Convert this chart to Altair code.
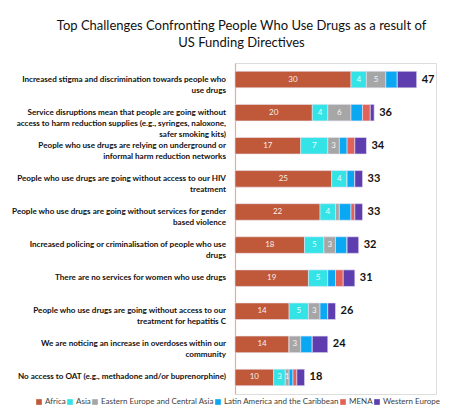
import altair as alt
import pandas as pd

categories = [
    "Increased stigma and discrimination towards people who|use drugs",
    "Service disruptions mean that people are going without|access to harm reduction supplies (e.g., syringes, naloxone,|safer smoking kits)",
    "People who use drugs are relying on underground or|informal harm reduction networks",
    "People who use drugs are going without access to our HIV|treatment",
    "People who use drugs are going without services for gender|based violence",
    "Increased policing or criminalisation of people who use|drugs",
    "There are no services for women who use drugs",
    "People who use drugs are going without access to our|treatment for hepatitis C",
    "We are noticing an increase in overdoses within our|community",
    "No access to OAT (e.g., methadone and/or buprenorphine)",
]
regions = ["Africa", "Asia", "Eastern Europe and Central Asia",
           "Latin America and the Caribbean", "MENA", "Western Europe"]
africa = [30, 20, 17, 25, 22, 18, 19, 14, 14, 10]
asia = [4, 4, 7, 4, 4, 5, 5, 5, 0, 3]
eeca = [5, 6, 3, 0, 1, 3, 0, 3, 3, 1]
lac = [3, 3, 2, 2, 3, 3, 2, 2, 3, 1]
mena = [0, 2, 2, 0, 1, 0, 2, 0, 0, 1]
weur = [5, 1, 3, 2, 2, 3, 3, 2, 4, 2]
totals = [47, 36, 34, 33, 33, 32, 31, 26, 24, 18]
# which segment values are printed inside the bars
labelled_regions = ["Africa", "Asia", "Eastern Europe and Central Asia"]
eeca_label_shown = [True, True, True, False, False, True, False, True, True, True]
colors = ["#C0583A", "#33E3E6", "#A6A6A6", "#0AA8F2", "#E2625A", "#5E3EAE"]

series = [africa, asia, eeca, lac, mena, weur]
rows = []
for i, cat in enumerate(categories):
    cum = 0
    for r, (reg, vals) in enumerate(zip(regions, series)):
        v = vals[i]
        show = reg in labelled_regions and v > 0
        if reg == "Eastern Europe and Central Asia":
            show = show and eeca_label_shown[i]
        rows.append({"category": cat, "region": reg, "ridx": r, "value": v,
                     "start": cum, "end": cum + v, "mid": cum + v / 2,
                     "label": str(v) if show else ""})
        cum += v
df = pd.DataFrame(rows)
tot_df = pd.DataFrame({"category": categories, "total": totals})
cat_df = pd.DataFrame({"category": categories})

FONT = "Lato"
y_enc = alt.Y("category:N", sort=categories,
              scale=alt.Scale(paddingInner=0.5, paddingOuter=0.25),
              axis=alt.Axis(labels=False, ticks=False, title=None,
                            domainColor="#F0A890", domainWidth=1.2))
x_scale = alt.Scale(domain=[0, 52])

bars = alt.Chart(df).mark_bar(stroke="#E8E4F4", strokeWidth=0.6).encode(
    x=alt.X("start:Q", scale=x_scale, axis=None),
    x2="end:Q",
    y=y_enc,
    color=alt.Color("region:N", sort=regions,
                    scale=alt.Scale(domain=regions, range=colors),
                    legend=alt.Legend(title=None, orient="none", direction="horizontal",
                                      columns=6, legendX=-200, legendY=335,
                                      symbolType="square", symbolSize=32,
                                      symbolStrokeWidth=0,
                                      labelFont=FONT, labelFontSize=8.0,
                                      labelColor="#404040", columnPadding=0,
                                      labelOffset=2)),
)

inner = alt.Chart(df).mark_text(color="white", fontSize=8, font=FONT,
                                opacity=0.9).encode(
    x=alt.X("mid:Q", scale=x_scale),
    y=alt.Y("category:N", sort=categories),
    text="label:N",
)

tot = alt.Chart(tot_df).mark_text(align="left", dx=5, fontSize=11, fontWeight="bold",
                                  font=FONT, color="#111111").encode(
    x=alt.X("total:Q", scale=x_scale),
    y=alt.Y("category:N", sort=categories),
    text="total:Q",
)

cats = alt.Chart(cat_df).mark_text(align="right", baseline="middle", lineBreak="|",
                                   lineHeight=11, fontSize=8.1, fontWeight="bold",
                                   font=FONT, color="#111111").encode(
    x=alt.value(-9),
    y=alt.Y("category:N", sort=categories),
    text="category:N",
)

chart = alt.layer(bars, inner, tot, cats).properties(
    width=201, height=331,
    autosize=alt.AutoSizeParams(type="none"),
    padding={"left": 227, "top": 55, "right": 9, "bottom": 13},
    title=alt.Title(["Top Challenges Confronting People Who Use Drugs as a result of",
                     "US Funding Directives"],
                    anchor="middle", frame="group", dx=-94, offset=13,
                    font=FONT, fontSize=13, fontWeight="normal", lineHeight=17,
                    color="#111111"),
).configure_view(stroke=None).configure(background="white")

chart.save("out.html", embed_options={"renderer": "svg", "actions": False})
